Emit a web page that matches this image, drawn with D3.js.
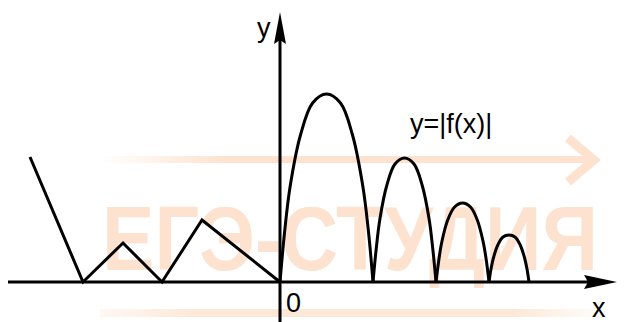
<!DOCTYPE html>
<html>
<head>
<meta charset="utf-8">
<script src="https://cdn.jsdelivr.net/npm/d3@7"></script>
<style>
  body { margin: 0; background: #fff; }
  svg { display: block; }
</style>
</head>
<body>
<svg id="chart" width="625" height="322"></svg>
<script>
// left part of y=|f(x)|, broken line (x, y in grid units, 1 unit = 10px)
const leftPoints = [[-25, 12.5], [-19.7, 0], [-15.7, 3.9], [-11.8, 0], [-7.8, 6.2], [0, 0]];

const arc1 = [[0, 0], [0.47, 5.1], [1.02, 9.6], [2.05, 14.7], [3.26, 17.9], [4.65, 18.8],
              [6.05, 17.9], [7.25, 14.7], [8.28, 9.6], [8.84, 5.1], [9.3, 0]];
const arc2 = [[9.3, 0], [9.62, 3.3], [9.99, 6.3], [10.69, 9.7], [11.5, 11.8], [12.45, 12.4],
              [13.4, 11.8], [14.21, 9.7], [14.91, 6.3], [15.28, 3.3], [15.6, 0]];
const arc3 = [[15.6, 0], [15.87, 2.1], [16.18, 4.0], [16.77, 6.2], [17.46, 7.5], [18.25, 7.9],
              [19.05, 7.5], [19.73, 6.2], [20.32, 4.0], [20.64, 2.1], [20.9, 0]];
const arc4 = [[20.9, 0], [21.1, 1.3], [21.34, 2.4], [21.78, 3.7], [22.3, 4.5], [22.9, 4.7],
              [23.5, 4.5], [24.02, 3.7], [24.46, 2.4], [24.7, 1.3], [24.9, 0]];
const arcs = [arc1, arc2, arc3, arc4];

const xDomain = [-27.2, 34.5];
const yDomain = [-4, 28.2];
const watermark = "ЕГЭ-СТУДИЯ";
const curveLabel = "y=|f(x)|";

const svg = d3.select("#chart");
const width = 625, height = 322;

const x = d3.scaleLinear().domain(xDomain).range([8, 625]);
const y = d3.scaleLinear().domain(yDomain).range([322, 0]);

// watermark in the background
const defs = svg.append("defs");
const g1 = defs.append("linearGradient").attr("id", "fadeLeft");
g1.append("stop").attr("offset", "0%").attr("stop-color", "#fde3cf").attr("stop-opacity", 0);
g1.append("stop").attr("offset", "25%").attr("stop-color", "#fde3cf").attr("stop-opacity", 1);
const g2 = defs.append("linearGradient").attr("id", "fadeRight");
g2.append("stop").attr("offset", "0%").attr("stop-color", "#fde7d6").attr("stop-opacity", 0.3);
g2.append("stop").attr("offset", "20%").attr("stop-color", "#fde7d6").attr("stop-opacity", 1);
g2.append("stop").attr("offset", "80%").attr("stop-color", "#fde7d6").attr("stop-opacity", 1);
g2.append("stop").attr("offset", "100%").attr("stop-color", "#fde7d6").attr("stop-opacity", 0);

const wm = svg.append("g").attr("class", "watermark");
wm.append("rect")
  .attr("x", 100).attr("y", 156).attr("width", 494).attr("height", 7)
  .attr("fill", "url(#fadeLeft)");
wm.append("path")
  .attr("d", "M568,138 L594,160 L568,182")
  .attr("fill", "none")
  .attr("stroke", "#fde3cf")
  .attr("stroke-width", 9);
wm.append("text")
  .attr("x", 102).attr("y", 270)
  .attr("textLength", 496)
  .attr("lengthAdjust", "spacingAndGlyphs")
  .style("font-family", "'Liberation Sans', Arial, sans-serif")
  .style("font-weight", "bold")
  .style("font-size", "90px")
  .attr("fill", "#fde3cf")
  .text(watermark);
wm.append("rect")
  .attr("x", 100).attr("y", 309).attr("width", 510).attr("height", 8)
  .attr("fill", "url(#fadeRight)");

// axes
svg.append("line")
  .attr("x1", x(xDomain[0])).attr("y1", y(0))
  .attr("x2", x(33.7) - 20).attr("y2", y(0))
  .attr("stroke", "#000").attr("stroke-width", 3);
svg.append("line")
  .attr("x1", x(0)).attr("y1", y(yDomain[0]))
  .attr("x2", x(0)).attr("y2", y(27) + 20)
  .attr("stroke", "#000").attr("stroke-width", 3);

// arrowheads
const ax = x(33.7), ay = y(0);
svg.append("path")
  .attr("d", `M${ax},${ay} L${ax - 33},${ay - 7} L${ax - 29},${ay} L${ax - 33},${ay + 7} Z`)
  .attr("fill", "#000");
const bx = x(0), by = y(27);
svg.append("path")
  .attr("d", `M${bx},${by} L${bx - 6},${by + 32} L${bx},${by + 28} L${bx + 6},${by + 32} Z`)
  .attr("fill", "#000");

// the graph
const line = d3.line().x(d => x(d[0])).y(d => y(d[1]));

svg.append("path")
  .datum(leftPoints)
  .attr("d", line)
  .attr("fill", "none")
  .attr("stroke", "#000")
  .attr("stroke-width", 3)
  .attr("stroke-linejoin", "miter");

const arcLine = d3.line().x(d => x(d[0])).y(d => y(d[1])).curve(d3.curveCatmullRom.alpha(0.5));
svg.selectAll(".arc")
  .data(arcs)
  .enter().append("path")
  .attr("class", "arc")
  .attr("d", arcLine)
  .attr("fill", "none")
  .attr("stroke", "#000")
  .attr("stroke-width", 3);

// labels
const font = "'Liberation Sans', Arial, sans-serif";
const labels = [
  { text: "y", x: -2.3, y: 24.5 },
  { text: "x", x: 31.2, y: -3.5 },
  { text: "0", x: 0.6, y: -3.0 },
  { text: curveLabel, x: 13.0, y: 14.9 }
];
svg.selectAll(".lbl")
  .data(labels)
  .enter().append("text")
  .attr("class", "lbl")
  .attr("x", d => x(d.x))
  .attr("y", d => y(d.y))
  .style("font-family", font)
  .style("font-size", "27px")
  .attr("fill", "#000")
  .text(d => d.text);
</script>
</body>
</html>
